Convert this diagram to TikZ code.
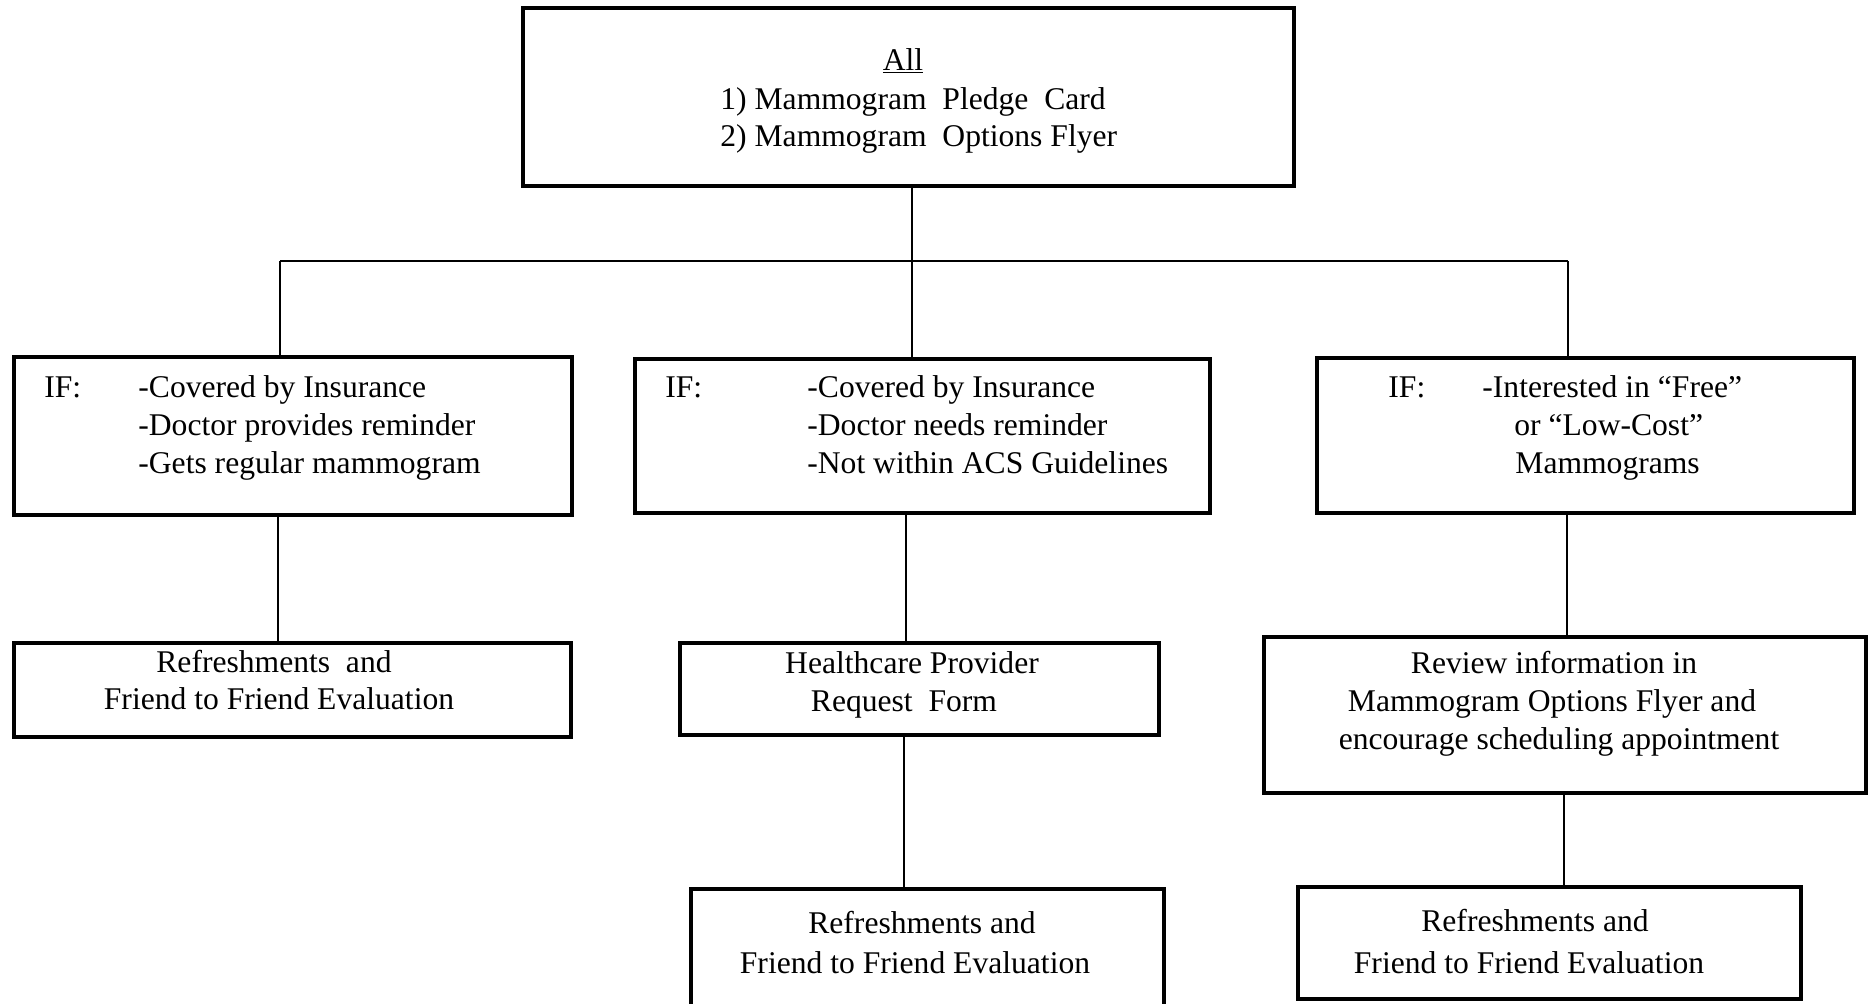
\documentclass[tikz,border=0pt]{standalone}
\usepackage{fontspec}
\setmainfont{Liberation Serif}
\usetikzlibrary{fit}
\begin{document}
\begin{tikzpicture}[x=0.5pt,y=-0.5pt,
  box/.style={draw, line width=1.65pt, inner sep=0pt},
  link/.style={line width=1.35pt},
  txt/.style={inner sep=0pt, font=\fontsize{15.8}{19}\selectfont},
  lt/.style={txt, anchor=base west},
  ct/.style={txt, anchor=base}]
\useasboundingbox (0,0) rectangle (1874,1003);
\fill[white] (0,0) rectangle (1874,1003);
% boxes
\node[box, fit={(523,8) (1294,186)}] (top) {};
\node[box, fit={(14,357) (572,515)}] (b1) {};
\node[box, fit={(635,359) (1210,513)}] (b2) {};
\node[box, fit={(1317,358) (1854,513)}] (b3) {};
\node[box, fit={(14,643) (571,737)}] (b4) {};
\node[box, fit={(680,643) (1159,735)}] (b5) {};
\node[box, fit={(1264,637) (1866,793)}] (b6) {};
\node[box, fit={(691,889) (1164,1015)}] (b7) {};
\node[box, fit={(1298,887) (1801,999)}] (b8) {};
% connectors
\coordinate (jc) at (912,261);
\coordinate (jl) at (280,261);
\coordinate (jr) at (1568,261);
\coordinate (xa) at (278,0);
\coordinate (xb) at (906,0);
\coordinate (xc) at (904,0);
\coordinate (xd) at (1567,0);
\coordinate (xe) at (1564,0);
\draw[link] (top.south -| jc) -- (jc);
\draw[link] (jl) -- (jr);
\draw[link] (jl) -- (b1.north -| jl);
\draw[link] (jc) -- (b2.north -| jc);
\draw[link] (jr) -- (b3.north -| jr);
\draw[link] (b1.south -| xa) -- (b4.north -| xa);
\draw[link] (b2.south -| xb) -- (b5.north -| xb);
\draw[link] (b5.south -| xc) -- (b7.north -| xc);
\draw[link] (b3.south -| xd) -- (b6.north -| xd);
\draw[link] (b6.south -| xe) -- (b8.north -| xe);
% top text
\node[ct] (t0) at (903,70) {\underline{All}};
\node[lt] (t1) at (720,109) {1)\ Mammogram\ \ Pledge\ \ Card};
\node[lt] (t2) at (720,146) {2)\ Mammogram\ \ Options\ Flyer};
% box 1
\node[lt] (a0) at (44,397) {IF:};
\node[lt] (a1) at (138,397) {-Covered by Insurance};
\node[lt] (a2) at (138,435) {-Doctor provides reminder};
\node[lt] (a3) at (138,473) {-Gets regular mammogram};
% box 2
\node[lt] (m0) at (665,397) {IF:};
\node[lt] (m1) at (807,397) {-Covered by Insurance};
\node[lt] (m2) at (807,435) {-Doctor needs reminder};
\node[lt] (m3) at (807,473) {-Not within ACS Guidelines};
% box 3
\node[lt] (r0) at (1388,397) {IF:};
\node[lt] (r1) at (1482,397) {-Interested in “Free”};
\node[lt] (r2) at (1514,435) {or “Low-Cost”};
\node[lt] (r3) at (1515,473) {Mammograms};
% box 4
\node[ct] (f1) at (274,672) {Refreshments\ \ and};
\node[ct] (f2) at (279,709) {Friend to Friend Evaluation};
% box 5
\node[ct] (h1) at (912,673) {Healthcare Provider};
\node[ct] (h2) at (904,711) {Request\ \ Form};
% box 6
\node[ct] (v1) at (1554,673) {Review information in};
\node[ct] (v2) at (1552,711) {Mammogram Options Flyer and};
\node[ct] (v3) at (1559,749) {encourage scheduling appointment};
% box 7
\node[ct] (g1) at (922,933) {Refreshments and};
\node[ct] (g2) at (915,973) {Friend to Friend Evaluation};
% box 8
\node[ct] (k1) at (1535,931) {Refreshments and};
\node[ct] (k2) at (1529,973) {Friend to Friend Evaluation};
\end{tikzpicture}
\end{document}
